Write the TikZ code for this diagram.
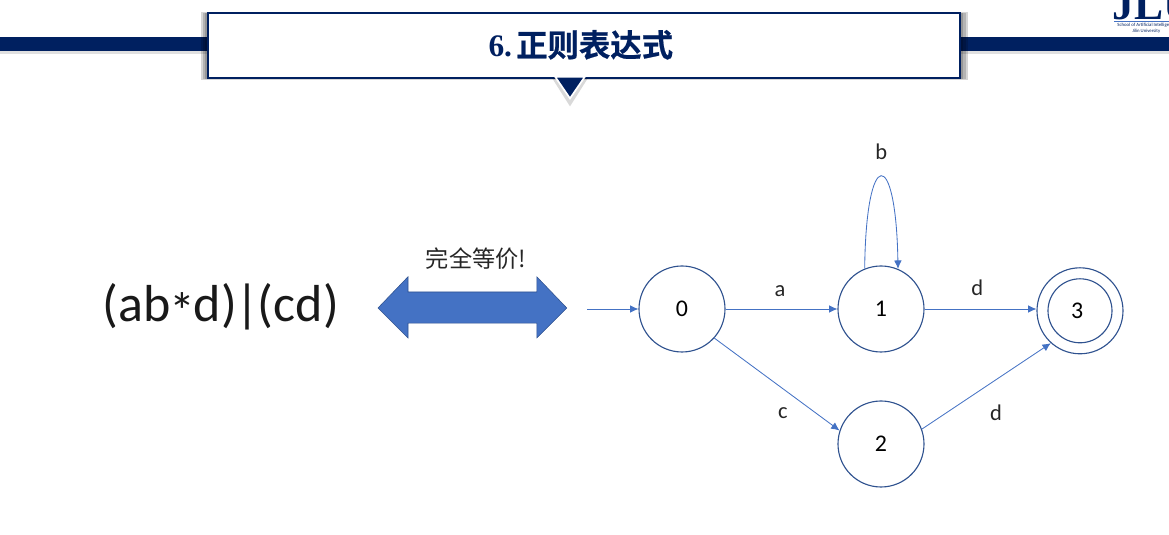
\documentclass[tikz,border=0pt]{standalone}
\usepackage{fontspec}
\setmainfont{Carlito}
\newfontfamily\cjk{Noto Sans CJK SC}
\newfontfamily\cjkbold[FakeBold=0.6]{Noto Sans CJK SC Bold}
\newfontfamily\serifbold{Liberation Serif Bold}
\usetikzlibrary{arrows.meta}
\definecolor{navy}{HTML}{002060}
\definecolor{shapeblue}{HTML}{4472C4}
\definecolor{ringblue}{HTML}{2F528F}
\tikzset{
    statenode/.style={circle,draw=ringblue,line width=0.8pt,minimum size=2.15cm,inner sep=0pt,font=\fontsize{17}{20}\selectfont},
    flowline/.style={draw=shapeblue,line width=0.6pt,-{Latex[length=6pt,width=5.5pt]}},
    edgelabel/.style={font=\fontsize{16}{19}\selectfont,text=black!85},
    shadowbox/.style={fill=black,opacity=0.16,draw=none}
}
\begin{document}
\begin{tikzpicture}
    \useasboundingbox (0,0) rectangle (29.225,-13.375);

    % Header
    \fill[black,opacity=0.12] (0,-1.28) rectangle (29.225,-1.36);
    \fill[navy] (0,-0.925) rectangle (29.225,-1.275);
    \fill[shadowbox] (5.02,-0.3) rectangle (24.2,-2.0);
    \fill[shadowbox] (5.07,-0.32) rectangle (24.15,-1.98);
    \fill[shadowbox] (5.12,-0.32) rectangle (24.08,-1.98);
    \node (titlebox) [draw=navy,fill=white,line width=1pt,minimum width=18.8cm,minimum height=1.625cm,inner sep=0pt] at (14.6,-1.135) {};
    \node (titletext) [text=navy,font=\fontsize{22.3}{26}\selectfont] at (14.52,-1.12) {{\serifbold 6.\kern 3pt}{\cjkbold 正则表达式}};
    \fill[black,opacity=0.15] (13.8,-1.95) -- (14.25,-2.66) -- (14.7,-1.95) -- cycle;
    \draw[white,line width=1.2pt,fill=navy] (13.88,-1.92) -- (14.25,-2.46) -- (14.62,-1.92) -- cycle;

    % Logo
    \node (logomark) [text=navy,anchor=south west,inner sep=0pt,font=\fontsize{31}{31}\selectfont\serifbold] at (27.8,-0.5) {JLU\textcolor{red!75!black}{A}};
    \draw[shapeblue,line width=0.6pt] (27.85,-0.53) -- (29.225,-0.53);
    \node (logoschool) [anchor=west,inner sep=0pt,text=navy,font=\fontsize{3.4}{4}\selectfont] at (27.93,-0.63) {School of Artificial Intelligence};
    \node (logouniv) [anchor=west,inner sep=0pt,text=navy,font=\fontsize{3.4}{4}\selectfont] at (28.3,-0.77) {Jilin University};

    % Expression
    \node (regex) [text=black!90,font=\fontsize{37}{41}\selectfont] at (5.52,-7.68) {(ab\kern-1pt\raisebox{-0.14em}{*}\kern-1pt d)\kern-1pt|\kern-1pt(cd)};
    \node (equal) [text=black!85,font=\fontsize{16.5}{20}\selectfont\cjk] at (11.9,-6.47) {完全等价!};
    \draw[ringblue,line width=0.4pt,fill=shapeblue] (9.45,-7.7) -- (10.2,-6.92) -- (10.2,-7.3) -- (13.42,-7.3) -- (13.42,-6.92) -- (14.17,-7.7) -- (13.42,-8.45) -- (13.42,-8.08) -- (10.2,-8.08) -- (10.2,-8.45) -- cycle;

    % Automa
    \node (s0) [statenode] at (17.05,-7.725) {0};
    \node (s1) [statenode] at (22.025,-7.725) {1};
    \node (s2) [statenode] at (22.025,-11.1) {2};
    \node (s3) [statenode] at (27,-7.77) {3\kern 4pt};
    \node (s3in) [statenode,minimum size=1.6cm] at (27,-7.77) {};
    \coordinate (start) at (14.68,-7.725);

    \draw[flowline] (start) -- (s0);
    \draw[flowline] (s0) -- (s1);
    \draw[flowline] (s1) -- (s3.west |- s1);
    \draw[flowline] (s0.-42) -- (s2.162);
    \draw[flowline] (s2.20) -- (s3.-132);
    \draw[flowline] (s1.112) .. controls (21.65,-3.65) and (22.4,-3.65) .. (s1.67);

    \node (la) [edgelabel] at (19.5,-7.27) {a};
    \node (lb) [edgelabel] at (22.03,-3.8) {b};
    \node (lc) [edgelabel] at (19.57,-10.33) {c};
    \node (ld) [edgelabel] at (24.43,-7.2) {d};
    \node (ld2) [edgelabel] at (24.9,-10.33) {d};
\end{tikzpicture}
\end{document}
